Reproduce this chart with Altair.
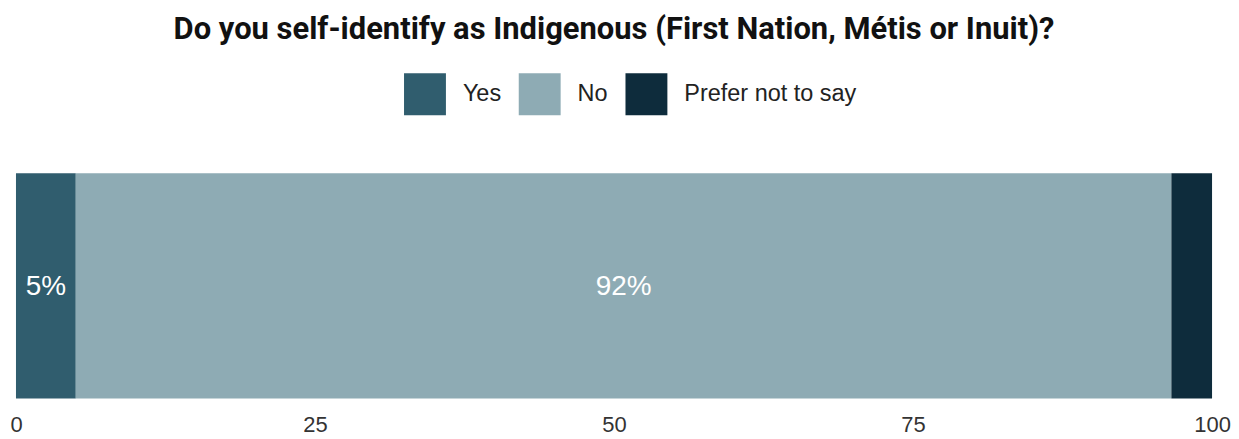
import altair as alt
import pandas as pd

categories = ["Yes", "No", "Prefer not to say"]
values = [5.0, 91.6, 3.4]
labels = ["5%", "92%", ""]
colors = ["#305d6e", "#8eabb4", "#0e2c3c"]
tick_values = [0, 25, 50, 75, 100]

df = pd.DataFrame({
    "question": ["Indigenous"] * len(categories),
    "category": categories,
    "value": values,
    "label": labels,
    "order": list(range(len(categories))),
})

base = alt.Chart(df).transform_stack(
    stack="value",
    groupby=["question"],
    as_=["v0", "v1"],
    sort=[alt.SortField("order", order="ascending")],
).transform_calculate(mid="(datum.v0 + datum.v1) / 2")

yenc = alt.Y("question:N", axis=None,
             scale=alt.Scale(paddingInner=0, paddingOuter=0))

bars = base.mark_bar().encode(
    x=alt.X("v0:Q", scale=alt.Scale(domain=[0, 100], nice=False),
            axis=alt.Axis(values=tick_values, title=None, grid=False, domain=False,
                          ticks=False, labelFontSize=22, labelColor="#333333",
                          labelFont="Liberation Sans", labelPadding=16,
                          labelFlush=False)),
    x2="v1:Q",
    y=yenc,
    color=alt.Color("category:N",
                    scale=alt.Scale(domain=categories, range=colors),
                    sort=categories,
                    legend=alt.Legend(title=None, orient="none", direction="horizontal",
                                      legendX=389, legendY=-100,
                                      symbolType="square", symbolSize=1764,
                                      symbolStrokeWidth=0, symbolOpacity=1,
                                      labelFontSize=23.5, labelFont="Liberation Sans",
                                      labelColor="#222222", labelOffset=17,
                                      labelLimit=400,
                                      columnPadding=17, padding=0)),
)

text = base.mark_text(color="white", fontSize=28, font="Liberation Sans", dy=1).encode(
    x=alt.X("mid:Q"),
    y=yenc,
    text="label:N",
)

chart = alt.layer(bars, text).properties(
    width=1199,
    height=226,
    padding={"left": 1, "top": 6, "right": 0, "bottom": 5},
    title=alt.TitleParams(
        "Do you self-identify as Indigenous (First Nation, Métis or Inuit)?",
        font="Roboto", fontSize=31, fontWeight="bold",
        color="#111111", anchor="middle", offset=27,
    ),
).configure_view(stroke=None)

chart.save("out.html", embed_options={"renderer": "svg", "actions": False})
